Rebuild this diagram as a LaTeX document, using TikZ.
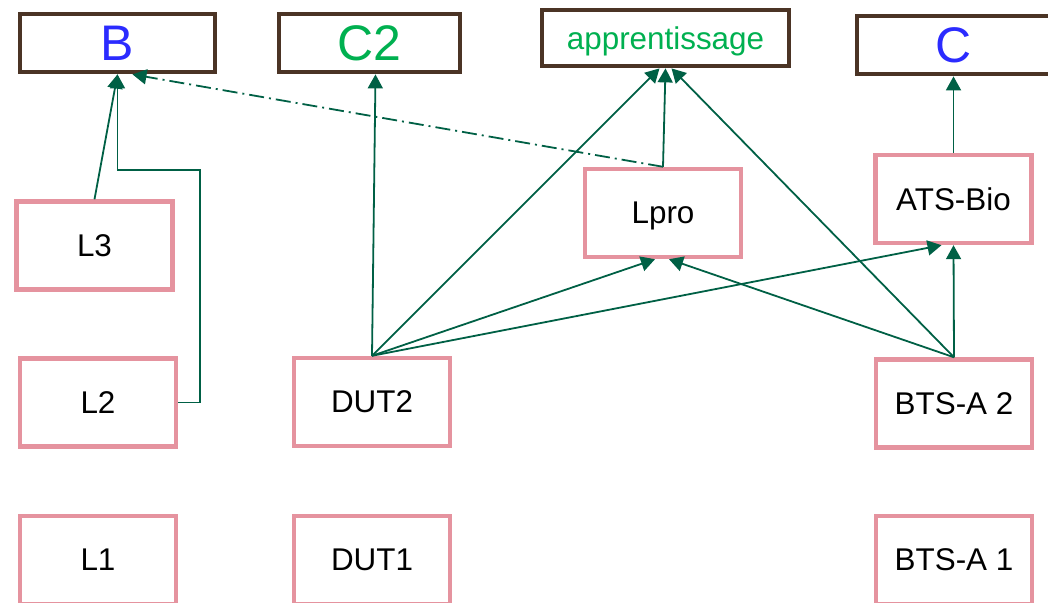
\documentclass[tikz,border=0pt]{standalone}
\usepackage{fontspec}
\setmainfont{Liberation Sans}
\usetikzlibrary{arrows.meta,calc}
\definecolor{brun}{HTML}{4B3425}
\definecolor{rose}{HTML}{E5939F}
\definecolor{vertf}{HTML}{006045}
\definecolor{bleu}{HTML}{2B2BFF}
\definecolor{vertc}{HTML}{00B050}
\begin{document}
\begin{tikzpicture}[x=0.5pt, y=-0.5pt, font=\fontsize{15.7}{18}\selectfont,
	>={Triangle[length=7pt,width=7.5pt]},
	niv/.style={draw=rose, line width=2.2pt, minimum width=78pt, minimum height=44pt, inner sep=0pt, text depth=0pt},
	but/.style={draw=brun, line width=2.4pt, minimum height=29pt, inner sep=0pt, text depth=0pt},
	gros/.style={font=\fontsize{25}{28}\selectfont},
	fl/.style={vertf, line width=0.9pt, ->}]
				\useasboundingbox (0,0) rectangle (1048,603);
				\node[but, gros, minimum width=97.5pt, text=bleu] (B) at (117.5,43) {B};
				\node[but, gros, minimum width=90.5pt, text=vertc] (C2) at (369.5,43) {C2};
				\node[but, minimum width=123.5pt, minimum height=28pt, text=vertc] (app) at (665.5,38) {apprentissage};
				\node[but, gros, minimum width=96.5pt, text=bleu] (C) at (953.5,45) {C};
				\foreach \n/\p/\t in {L3/{94.5,245.5}/L3, L2/{98,402.5}/L2, L1/{98,560}/L1, DUT2/{372,402}/DUT2, DUT1/{372,560}/DUT1, Lpro/{663,213}/Lpro, ATS/{953.5,199}/ATS-Bio, BTS2/{954,403.5}/BTS-A 2, BTS1/{954,560}/BTS-A 1}{
				\node[niv] (\n) at (\p) {\t};
				}
				\coordinate (k) at (200,170);
				\draw[fl] (L3.north) -- (B.south);
				\draw[fl] (L2.east) -| (k) -| (B.south);
				\draw[fl, dash pattern=on 7.5pt off 2.5pt on 1pt off 2.5pt] (Lpro.north) -- ($(B.south)+(15,0)$);
				\foreach \z/\d in {C2/6, app/-6, Lpro/-8, ATS/-12}{
				\draw[fl] (DUT2.north) -- ($(\z.south)+(\d,0)$);
				}
				\foreach \z/\d in {app/6, Lpro/6, ATS/0}{
				\draw[fl] (BTS2.north) -- ($(\z.south)+(\d,0)$);
				}
				\draw[fl] (Lpro.north) -- (app.south);
				\draw[fl] (ATS.north) -- (C.south);
			\end{tikzpicture}
\end{document}
